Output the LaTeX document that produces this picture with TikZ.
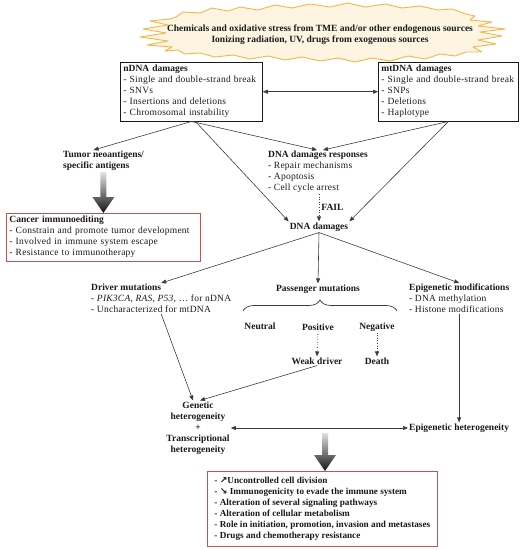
\documentclass[tikz,border=0pt]{standalone}
\usepackage{fontspec}
\setmainfont{Liberation Serif}[LetterSpace=2.5, BoldFeatures={LetterSpace=0.0}]
\newfontfamily\symfont{DejaVu Sans}
\usetikzlibrary{arrows.meta,decorations.pathreplacing,calc}
\definecolor{burstline}{RGB}{244,182,72}
\definecolor{burstfill}{RGB}{253,245,226}
\definecolor{redbox}{RGB}{200,82,78}
\definecolor{ink}{RGB}{25,25,25}
\newcommand\fatarrow[2]{%
  \shade[top color=black!12, middle color=black!78, bottom color=black!92]
  let \p1=#1, \p2=#2 in
  (\x1-3pt,\y1) -- (\x1-3pt,\y2+16pt) -- (\x1-11pt,\y2+16pt) -- (\x1,\y2)
  -- (\x1+11pt,\y2+16pt) -- (\x1+3pt,\y2+16pt) -- (\x1+3pt,\y1) -- cycle;}
\begin{document}
\begin{tikzpicture}[x=1pt,y=-1pt,
  font=\fontsize{9.5}{11}\selectfont, text=ink,
  lbl/.style={font=\fontsize{9.5}{11}\selectfont\bfseries, inner sep=1pt},
  list/.style={align=left, inner sep=1pt, anchor=north west},
  box/.style={draw=ink, line width=0.8pt, align=left, inner xsep=3pt, inner ysep=3pt, anchor=north west},
  rbox/.style={box, draw=redbox},
  arr/.style={draw=ink!85, line width=0.6pt, -{Triangle[length=5pt,width=4pt]}},
  darr/.style={arr, {Triangle[length=5pt,width=4pt]}-{Triangle[length=5pt,width=4pt]}},
  dotarr/.style={arr, dotted, line width=0.8pt},
  bracedeco/.style={draw=ink!85, line width=0.7pt, decorate, decoration={brace, amplitude=11pt}}]
\useasboundingbox (0,0) rectangle (527,550);
% source burst
\filldraw[draw=burstline, fill=burstfill, line width=0.9pt, line join=round]
 (176,17) -- (183,12) -- (200,13) -- (212,8) -- (228,11) -- (240,7) -- (258,10) -- (275,5) -- (292,8) -- (310,4) -- (330,7) -- (348,3) -- (365,7) -- (385,4) -- (402,8) -- (420,6) -- (438,10) -- (452,9) -- (466,14)
 -- (475,16) -- (470,20) -- (492,22) -- (478,26) -- (505,29) -- (480,32) -- (502,36) -- (478,40) -- (496,44) -- (473,47) -- (482,52) -- (466,52)
 -- (455,56) -- (440,54) -- (425,59) -- (408,56) -- (390,61) -- (372,58) -- (355,62) -- (338,58) -- (320,61) -- (302,57) -- (285,60) -- (268,56) -- (250,59) -- (233,55) -- (215,57) -- (200,53) -- (185,54) -- (178,50)
 -- (165,51) -- (172,47) -- (147,45) -- (168,41) -- (140,37) -- (166,33) -- (143,29) -- (168,25) -- (150,21) -- (170,19) -- cycle;
\node[lbl, align=center] (src) at (320,35) {Chemicals and oxidative stress from TME and/or other endogenous sources\\Ionizing radiation, UV, drugs from exogenous sources};
% damage boxes
\node[box, text width=136pt] (nd) at (120,62) {\textbf{nDNA damages}\\- Single and double-strand break\\- SNVs\\- Insertions and deletions\\- Chromosomal instability};
\node[box, text width=134pt] (mt) at (378,62) {\textbf{mtDNA damages}\\- Single and double-strand break\\- SNPs\\- Deletions\\- Haplotype};
\draw[darr] (nd) -- (mt);
% second level
\node[lbl, align=left, anchor=north west] (tum) at (62,150) {Tumor neoantigens/\\specific antigens};
\node[list] (ddr) at (267,150) {\textbf{DNA damages responses}\\- Repair mechanisms\\- Apoptosis\\- Cell cycle arrest};
\node[lbl] (dd) at (319,227) {DNA damages};
\node[rbox, text width=188pt] (ci) at (6,213) {\textbf{Cancer immunoediting}\\- Constrain and promote tumor development\\- Involved in immune system escape\\- Resistance to immunotherapy};
\draw[arr] (nd.south) -- ([xshift=-10pt]tum.north);
\draw[arr] (nd.south) -- ([xshift=-1pt]ddr.north);
\draw[arr] ([xshift=4pt]nd.south) -- (dd.north west);
\draw[arr] (mt.south) -- ([xshift=5pt]ddr.north);
\draw[arr] (mt.south) -- (dd.north east);
\draw[dotarr] (ddr.south -| dd.north) -- node[lbl, right=1pt] (fail) {FAIL} (dd.north);
\fatarrow{(tum.south -| ci.north)}{(ci.north)}
% third level
\node[list] (dr) at (90,283) {\textbf{Driver mutations}\\- \textit{PIK3CA, RAS, P53,} \ldots\ for nDNA\\- Uncharacterized for mtDNA};
\node[lbl] (pa) at (318,289) {Passenger mutations};
\node[list] (ep) at (408,283) {\textbf{Epigenetic modifications}\\- DNA methylation\\- Histone modifications};
\draw[arr] (dd.south) -- (dr.north);
\draw[arr] (dd.south) -- (pa.north);
\draw[arr] (dd.south) -- (ep.north);
\coordinate (bl) at (243,311);
\coordinate (br) at (397,311);
\draw[bracedeco] (bl) -- (br);
\node[lbl] (neu) at (260,326) {Neutral};
\node[lbl] (pos) at (318,327) {Positive};
\node[lbl] (neg) at (377,327) {Negative};
\node[lbl] (wd) at (317,361) {Weak driver};
\node[lbl] (de) at (377,361) {Death};
\draw[dotarr] (pos.south) -- (wd.north);
\draw[dotarr] (neg.south) -- (de.north);
% heterogeneity
\node[lbl, align=center] (gen) at (198,428) {Genetic\\heterogeneity\\+\\Transcriptional\\heterogeneity};
\node[lbl, anchor=west] (eh) at (408,428) {Epigenetic heterogeneity};
\draw[arr] (dr.south) -- ([xshift=-5pt]gen.north);
\draw[arr] (wd.south) -- ([xshift=2pt]gen.north);
\draw[arr] (ep.south -| eh.north) -- (eh.north);
\draw[darr] (gen) -- (eh);
% outcome
\node[rbox, font=\fontsize{9.2}{11}\selectfont\bfseries, inner xsep=7pt, inner ysep=6pt] (fin) at (207,471) {- {\symfont\bfseries ↗}Uncontrolled cell division\\- {\symfont\bfseries ↘} Immunogenicity to evade the immune system\\- Alteration of several signaling pathways\\- Alteration of cellular metabolism\\- Role in initiation, promotion, invasion and metastases\\- Drugs and chemotherapy resistance};
\coordinate (fs) at (325,433);
\fatarrow{(fs)}{(fs |- fin.north)}
\end{tikzpicture}
\end{document}
